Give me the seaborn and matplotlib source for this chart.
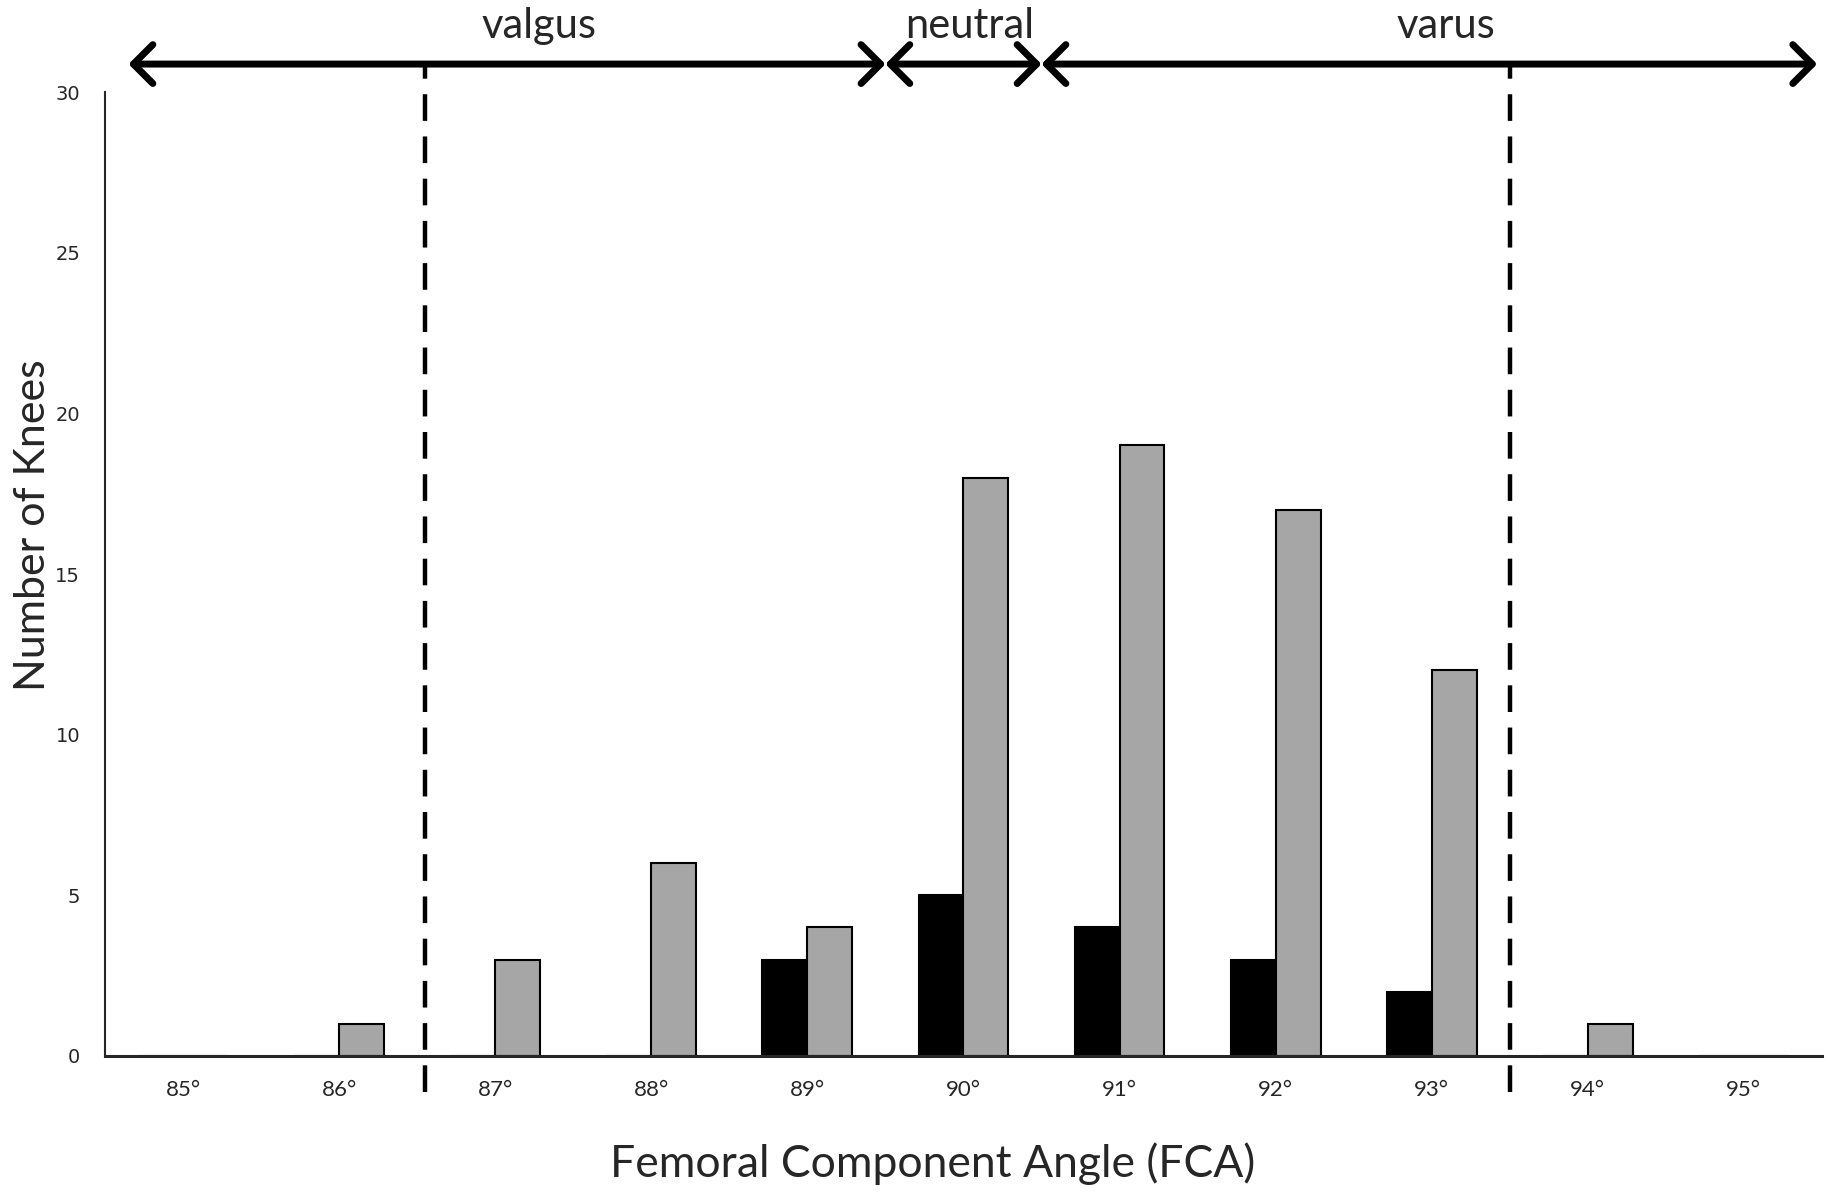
# femoral component angle histogram - two groups of knees
import pandas as pd
import numpy as np
from matplotlib import pyplot as plt
import seaborn as sns

# data
angles = ["85°", "86°", "87°", "88°", "89°", "90°", "91°", "92°", "93°", "94°", "95°"]
black_counts = [0, 0, 0, 0, 3, 5, 4, 3, 2, 0, 0]
gray_counts = [0, 1, 3, 6, 4, 18, 19, 17, 12, 1, 0]
groups = ["Group A", "Group B"]
zone_labels = ["valgus", "neutral", "varus"]

sns.set_style("white")
plt.rcParams['font.family'] = ['Lato', 'DejaVu Sans']

# long table for seaborn
df = pd.DataFrame({
    "angle": angles * 2,
    "count": black_counts + gray_counts,
    "group": [groups[0]] * len(angles) + [groups[1]] * len(angles),
})

fig, ax = plt.subplots(figsize=(18.31, 11.92), dpi=100)
fig.subplots_adjust(left=0.0574, right=0.995, bottom=0.1141, top=0.9228)

sns.barplot(data=df, x="angle", y="count", hue="group", order=angles,
            palette=["black", "#A6A6A6"], width=0.576, gap=0,
            edgecolor="black", linewidth=1.5, errorbar=None,
            legend=False, ax=ax)

ax.set_xlim(-0.5, len(angles) - 0.5)
ax.set_ylim(0, 30)
ax.set_yticks(range(0, 31, 5))

# spines like the excel original
sns.despine(ax=ax)
ax.spines['left'].set_linewidth(1.5)
ax.spines['bottom'].set_linewidth(2.2)

# tick marks between the categories, labels in the middle
ax.set_xticks(np.arange(-0.5, len(angles)), minor=True)
ax.tick_params(axis='x', which='major', length=0, pad=17, labelsize=16)
ax.tick_params(axis='x', which='minor', length=7, width=1.5, direction='out', color='black')
ax.tick_params(axis='y', length=6, width=1.5, direction='out', pad=12, labelsize=14, color='black')
for lab in ax.get_yticklabels():
    lab.set_family('DejaVu Sans')

ax.set_xlabel("Femoral Component Angle (FCA)", fontsize=32)
ax.xaxis.set_label_coords(0.482, -0.09)
ax.set_ylabel("")
fig.text(33 / 1831, 1 - 525 / 1192, "Number of Knees", rotation=90,
         ha='center', va='center', fontsize=31)

# dashed thresholds
for xv in [1.55, 8.5]:
    ax.plot([xv, xv], [-1.12, 30.87], color='black', lw=3.2,
            linestyle=(0, (6, 3.5)), clip_on=False, zorder=5)

# arrows for the zones on top
arrow_y = 30.87
for x0, x1 in [(-0.35, 4.5), (4.5, 5.5), (5.5, 10.47)]:
    ax.annotate("", xy=(x1, arrow_y), xytext=(x0, arrow_y), xycoords='data',
                annotation_clip=False,
                arrowprops=dict(arrowstyle="<->,head_length=0.7,head_width=0.7",
                                lw=5, color='black', shrinkA=0, shrinkB=0,
                                mutation_scale=20, capstyle='round',
                                joinstyle='round'))

for xt, lab in zip([2.28, 5.04, 8.09], zone_labels):
    ax.text(xt, 32.05, lab, ha='center', va='center', fontsize=30, clip_on=False)

plt.savefig("out.png", dpi=100)
